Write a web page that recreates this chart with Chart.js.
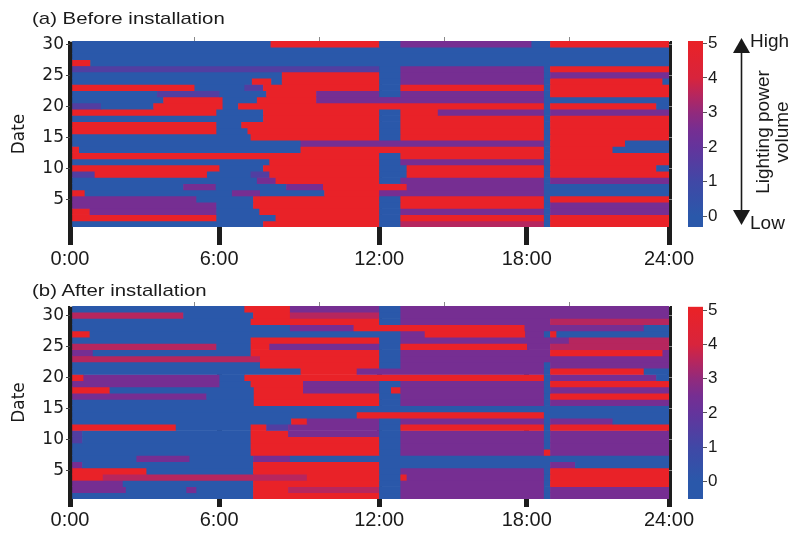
<!DOCTYPE html>
<html>
<head>
<meta charset="utf-8">
<script src="https://cdn.jsdelivr.net/npm/chart.js@4.4.0/dist/chart.umd.min.js"></script>
<style>
  body { margin: 0; width: 793px; height: 535px; position: relative; overflow: hidden; background: #fff;
         font-family: "Liberation Sans", Arial, sans-serif; color: #1a1a1a; }
  canvas { position: absolute; }
  .t { position: absolute; white-space: nowrap; line-height: 1; }
  .title { font-size: 17px; transform: scaleX(1.2); transform-origin: left top; }
  .ann { font-size: 19px; }
  .rot { font-size: 19px; transform: translate(-50%, -50%) rotate(-90deg); }
</style>
</head>
<body>
<canvas id="heatA" width="793" height="275" style="left:0;top:0"></canvas>
<canvas id="heatB" width="793" height="270" style="left:0;top:265px"></canvas>
<canvas id="barA" width="60" height="275" style="left:680px;top:0"></canvas>
<canvas id="barB" width="60" height="270" style="left:680px;top:265px"></canvas>

<div class="t title" style="left:32px;top:10px">(a) Before installation</div>
<div class="t title" style="left:32px;top:282px">(b) After installation</div>

<svg width="793" height="535" style="position:absolute;left:0;top:0">
  <line x1="741.5" y1="50" x2="741.5" y2="213" stroke="#1a1a1a" stroke-width="1.6"/>
  <polygon points="733,53 750,53 741.5,38" fill="#1a1a1a"/>
  <polygon points="733,210 750,210 741.5,225" fill="#1a1a1a"/>
</svg>
<div class="t ann" style="left:750px;top:31px">High</div>
<div class="t ann" style="left:750px;top:213px">Low</div>
<div class="t rot" style="left:762px;top:132px">Lighting power</div>
<div class="t rot" style="left:781px;top:132px">volume</div>

<script>
// x axis is in 15-minute slots (96 per day), as in the source figure
const slotCount = 96;
const hourMarks = [0, 23.9, 49.55, 73.2, 96];
const hourLabels = ["0:00", "6:00", "12:00", "18:00", "24:00"];
const minorSlots = [20, 40, 60, 80];
const dayTicks = [5, 10, 15, 20, 25, 30];
const levelTicks = [0, 1, 2, 3, 4, 5];

// colour level of a run: B blue, b blue-purple, P purple, p red-purple, R red
const levels = { B: 0, b: 1.5, P: 2.5, p: 3.5, R: 5 };

// one string per day (day 1 first); each run is level letter + start slot
const beforeRows = [
  "B0 R31 B49.6 p53 B76 R77",
  "R0 B23.5 R33 B49.6 R53 B76 R77",
  "R0 P3.2 B23.5 R30.4 B49.6 P53 B76 P77",
  "P0 B23.5 R29.4 B49.6 R53 B76 P77",
  "P0 B20.3 R29.4 B49.6 R53 B76 R77",
  "R0 B2.4 P26 B30.5 R40.8 P49.6 B76",
  "B0 P18.2 B23.4 P34.7 R40.6 P54 B76",
  "B0 P30 R33 B49.6 P53 B76 P77",
  "b0 R4 B22 b29 R32 B49.6 R54 B76 R77",
  "R0 B24 R31 B49.6 R54 B76 R77 B94",
  "B0 R32 B49.6 P53 B76 R77",
  "R0 B49.6 R53 B76 R77",
  "R0 B1.5 R37 B76 R77 B87",
  "B0 P37 B76 R77 B89",
  "B0 R29 B49.6 R53 B76 R77",
  "R0 B23.5 R28.5 B49.6 R53 B76 R77",
  "R0 B23.5 R27.5 B49.6 R53 B76 R77",
  "B0 R31 B49.6 R53 B76 R77",
  "R0 B23.5 R31 B49.6 R53 P59 B76 P77",
  "b0 B5 R13.4 B24.5 R27 B76 R77 B94",
  "B0 R15 B24.5 R30 P39.5 B76",
  "B0 b14 B24 R31.5 P39.5 B49.6 P53 B76 R77",
  "R0 B20 b28 R31 B49.6 R53 B76 R77",
  "B0 R29.2 B32.3 R34 B49.6 P53 B76 R77 B95",
  "B0 R34 B49.6 P53 B76 P77",
  "b0 B49.6 P53 B76 R77",
  "R0 B3.3",
  "B0",
  "B0",
  "B0 R32.2 B49.6 P53 B74 R77"
];

const afterRows = [
  "B0 R29.4 B49.6 P53 B76 P77",
  "P0 B9 P18.7 B20.3 R29.4 p35 B49.6 P53 B76 P77",
  "P0 B8.5 R29.4 B49.6 P53 B76 R77",
  "R0 p5.3 R38 B49.6 R53 P54 B76 R77",
  "R0 B12.3 R29.4 B49.6 P53 B76 R77",
  "P0 B2 R29.4 B49.6 P77 B81",
  "B0 P10.7 B19.2 P29.4 B35.3",
  "B0 R29 B49.6 P53 R76 P77",
  "B0 R29 B49.6 P53 B76 P77",
  "b0 B2 R29 B49.6 P53 B76 P77",
  "b0 B2 R29 P35 B49.6 P53 B76 P77",
  "R0 B17 R29 b31.5 P35 B49.6 R53 B76 R77",
  "B0 R35.5 P38 B49.6 P53 B76 P77 B87",
  "B0 R46 B76",
  "B0",
  "B0 R29.5 B49.6 P53 B76 P77",
  "P0 B21.9 R29.5 B49.6 P53 B76 R77",
  "R0 B6.4 R29.5 P37.4 B49.6 R51.5 P53 B76 P77",
  "P0 B24 R29 P37.4 B49.6 P53 B76 R77",
  "R0 P2.2 B24 R28 B76 P77 B94",
  "B0 R37 P46 B76 R77 B92",
  "B0 R30.5 B49.6 P53 B76 P77",
  "p0 R30.5 B49.6 P53",
  "P0 B3.7 R29 B49.6 P53 R77 P95",
  "p0 B23.5 R29 P32 B49.6 R53 P73.3 p77",
  "B0 R29 B49.6 P53 p80",
  "R0 B3.2 P53 R56.9 P73 B76 R77 B78",
  "B0 P35.3 R45.5 P72.9 B92",
  "B0 R29 B49.6 P53 p77",
  "p0 B18.2 R29.4 p35.3 B49.6 P53",
  "B0 R28 P35.3 B49.6 P53"
];

// colour map (blue -> purple -> red)
const cmapStops = [
  [0, [42, 88, 170]], [1, [64, 72, 166]], [2, [100, 52, 156]], [2.5, [118, 46, 146]],
  [3, [146, 42, 124]], [3.5, [182, 38, 94]], [4, [216, 36, 60]], [5, [233, 34, 40]]
];

function cmap(v) {
  if (v <= cmapStops[0][0]) return "rgb(" + cmapStops[0][1] + ")";
  for (let i = 1; i < cmapStops.length; i++) {
    const [v1, c1] = cmapStops[i];
    if (v <= v1) {
      const [v0, c0] = cmapStops[i - 1];
      const t = (v - v0) / (v1 - v0);
      return "rgb(" + c0.map((c, k) => Math.round(c + (c1[k] - c) * t)).join(",") + ")";
    }
  }
  return "rgb(" + cmapStops[cmapStops.length - 1][1] + ")";
}

function rowsToBars(rows) {
  const bars = [];
  rows.forEach((row, i) => {
    const runs = row.split(" ").map(s => [levels[s[0]], parseFloat(s.slice(1))]);
    runs.forEach(([v, start], k) => {
      const end = k + 1 < runs.length ? runs[k + 1][1] : slotCount;
      if (end > start) bars.push({ x: [start, end], y: i + 1, v: v });
    });
  });
  return bars;
}

const ink = "#1a1a1a";

function heatChart(id, rows, topH, bottomH, tickLen, labelPad) {
  return new Chart(document.getElementById(id), {
    type: "bar",
    data: {
      datasets: [{
        data: rowsToBars(rows),
        backgroundColor: c => (c.raw ? cmap(c.raw.v) : "#888"),
        borderWidth: 0,
        borderSkipped: false,
        barPercentage: 1,
        categoryPercentage: 1
      }]
    },
    options: {
      indexAxis: "y",
      responsive: false,
      animation: false,
      devicePixelRatio: 1,
      layout: { padding: 0 },
      plugins: { legend: { display: false }, tooltip: { enabled: false } },
      scales: {
        x: {
          type: "linear", position: "bottom", min: 0, max: slotCount, z: 1,
          afterBuildTicks: s => { s.ticks = hourMarks.map(v => ({ value: v })); },
          afterFit: s => { s.height = bottomH; },
          grid: { color: "#1d1d1d", lineWidth: 5, tickLength: tickLen, offset: false },
          border: { display: false },
          ticks: {
            autoSkip: false, maxRotation: 0, padding: labelPad, color: ink,
            font: { family: "Liberation Sans", size: 20 },
            callback: (v, i) => hourLabels[i]
          }
        },
        x2: {
          type: "linear", position: "top", min: 0, max: slotCount,
          afterBuildTicks: s => { s.ticks = minorSlots.map(v => ({ value: v })); },
          afterFit: s => { s.height = topH; },
          grid: { drawOnChartArea: false, tickLength: 4, color: "#8a8a8a", lineWidth: 1 },
          border: { display: true, color: "#bdbdbd", width: 1 },
          ticks: { display: false }
        },
        y: {
          type: "linear", position: "left", min: 0.5, max: rows.length + 0.5, offset: false,
          afterBuildTicks: s => { s.ticks = dayTicks.map(v => ({ value: v })); },
          afterFit: s => { s.width = 70; },
          grid: { drawOnChartArea: false, offset: false, tickLength: 4, color: "#444", lineWidth: 1 },
          border: { display: false },
          title: {
            display: true, text: "Date", color: ink,
            font: { family: "DejaVu Sans", size: 17 }, padding: { top: 9, bottom: 0 }
          },
          ticks: { padding: 2, color: ink, font: { family: "DejaVu Sans", size: 17 } }
        },
        y2: {
          type: "linear", position: "right", min: 0.5, max: rows.length + 0.5, offset: false,
          afterBuildTicks: s => { s.ticks = dayTicks.map(v => ({ value: v })); },
          afterFit: s => { s.width = 124; },
          grid: { drawOnChartArea: false, offset: false, tickLength: 3, color: "#8a8a8a", lineWidth: 1 },
          border: { display: false },
          ticks: { display: false }
        }
      }
    }
  });
}

function colorBar(id, lo, hi, padTop, padBottom) {
  return new Chart(document.getElementById(id), {
    type: "bar",
    data: {
      labels: ["level"],
      datasets: [{
        data: [[lo, hi]],
        borderWidth: 0,
        borderSkipped: false,
        barPercentage: 1,
        categoryPercentage: 1,
        backgroundColor: c => {
          const chart = c.chart;
          if (!chart.chartArea) return "#888";
          const ys = chart.scales.y;
          const g = chart.ctx.createLinearGradient(0, ys.getPixelForValue(lo), 0, ys.getPixelForValue(hi));
          cmapStops.forEach(([v, col]) => {
            if (v >= lo && v <= hi) g.addColorStop((v - lo) / (hi - lo), "rgb(" + col + ")");
          });
          return g;
        }
      }]
    },
    options: {
      responsive: false,
      animation: false,
      devicePixelRatio: 1,
      layout: { padding: { left: 8, top: padTop, bottom: padBottom, right: 0 } },
      plugins: { legend: { display: false }, tooltip: { enabled: false } },
      scales: {
        x: { display: false },
        y: {
          position: "right", min: lo, max: hi,
          afterBuildTicks: s => { s.ticks = levelTicks.map(v => ({ value: v })); },
          afterFit: s => { s.width = 37; },
          grid: { drawOnChartArea: false, tickLength: 4, color: "#555", lineWidth: 1 },
          border: { display: false },
          ticks: { padding: 1, color: ink, font: { family: "Liberation Sans", size: 17 } }
        }
      }
    }
  });
}

heatChart("heatA", beforeRows, 41, 48, 18, 2);
heatChart("heatB", afterRows, 41, 36, 8, 1);
colorBar("barA", -0.31, 5.07, 41, 48);
colorBar("barB", -0.51, 5.1, 41.7, 36);
</script>
</body>
</html>
